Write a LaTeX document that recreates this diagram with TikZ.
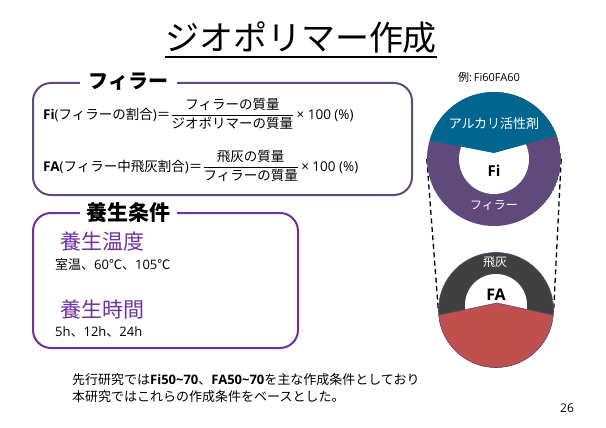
\documentclass[tikz,border=0pt]{standalone}
\usepackage{fontspec}
\setmainfont{Open Sans}
\newfontfamily\jp{Noto Sans CJK JP}
\usetikzlibrary{positioning}

\definecolor{boxgray}{HTML}{604A7B}
\definecolor{curepurple}{HTML}{7030A0}
\definecolor{alkblue}{HTML}{00668F}
\definecolor{fillpurple}{HTML}{604A7B}
\definecolor{ashgray}{HTML}{404040}
\definecolor{ashred}{HTML}{C0504D}

\begin{document}
\begin{tikzpicture}[x=1pt, y=-1pt,
    panel/.style={draw, line width=2pt, rounded corners=18pt},
    paneltitle/.style={fill=white, font=\jp\bfseries\fontsize{20}{24}\selectfont, minimum width=97pt, inner sep=0pt},
    formula/.style={anchor=west, font=\fontsize{13.5}{16}\selectfont, inner sep=0pt},
    subhead/.style={anchor=west, text=curepurple, font=\jp\fontsize{21}{24}\selectfont, inner sep=0pt},
    subtext/.style={anchor=west, font=\fontsize{13}{16}\selectfont, inner sep=0pt},
    ringlabel/.style={text=white, font=\jp\fontsize{12}{14}\selectfont},
    corelabel/.style={font=\bfseries\fontsize{15}{18}\selectfont},
    zoomline/.style={line width=1.3pt, dash pattern=on 5pt off 3.5pt}
]
\useasboundingbox (0,0) rectangle (606,428);

% Titel
\node[font=\jp\fontsize{34}{40}\selectfont, inner sep=0pt] (title) at (301,38) {ジオポリマー作成};
\draw[line width=1.5pt] ([yshift=-3pt]title.south west) -- ([yshift=-3pt]title.south east);

% Kasten Fi / FA
\draw[panel, boxgray] (33,83) rectangle (412,195);
\node[paneltitle] (fillertitle) at (128.5,82) {フィラー};
\node[formula] (fiformula) at (43,114)
  {\textbf{Fi}({\jp フィラーの割合}){\jp ＝}$\displaystyle\frac{\hbox{\jp フィラーの質量}}{\hbox{\jp ジオポリマーの質量}}$\,× 100 (\%)};
\node[formula] (faformula) at (43,166)
  {\textbf{FA}({\jp フィラー中飛灰割合}){\jp ＝}$\displaystyle\frac{\hbox{\jp 飛灰の質量}}{\hbox{\jp フィラーの質量}}$\,× 100 (\%)};

% Kasten Aushaertung
\draw[panel, curepurple] (33,213) rectangle (298,348);
\node[paneltitle, font=\jp\bfseries\fontsize{21}{24}\selectfont] (curetitle) at (128.5,212) {養生条件};
\node[subhead] (temphead) at (60,242) {養生温度};
\node[subtext] (temptext) at (55,264) {{\jp 室温、}60{\jp ℃、}105{\jp ℃}};
\node[subhead] (timehead) at (60,310) {養生時間};
\node[subtext] (timetext) at (55,332) {5h{\jp 、}12h{\jp 、}24h};

% Beispiel
\node[font=\fontsize{11}{13}\selectfont] (example) at (489,77) {{\jp 例}:\,Fi60FA60};

\node[circle, minimum size=134pt, inner sep=0pt] (ficircle) at (494,159) {};
\node[circle, minimum size=115pt, inner sep=0pt] (facircle) at (496,310) {};

% gestrichelte Linien
\draw[zoomline] (ficircle.west) -- (facircle.west);
\draw[zoomline] (ficircle.east) -- (facircle.east);

% Kreis Fi
\begin{scope}
\clip (ficircle.center) circle (67pt);
\fill[fillpurple] (ficircle.center) circle (67pt);
\fill[white] (ficircle.center) circle (35pt);
\fill[alkblue] (420,80) -- (420,138.5) -- (494,153) -- (570,132) -- (570,80) -- cycle;
\end{scope}
\node[ringlabel, font=\jp\fontsize{13}{16}\selectfont] (alklabel) at (494,124) {アルカリ活性剤};
\node[corelabel] (filabel) at (494,171) {Fi};
\node[ringlabel] (fillerlabel) at (494,205) {フィラー};

% Kreis FA
\begin{scope}
\clip (facircle.center) circle (57.5pt);
\fill[ashgray] (facircle.center) circle (57.5pt);
\fill[white] (496,305) circle (31pt);
\fill[ashred] (430,317) -- (497,303) -- (562,317) -- (562,380) -- (430,380) -- cycle;
\draw[fillpurple, line width=0.6pt] (430,317) -- (497,303) -- (562,317);
\end{scope}
\draw[fillpurple, line width=0.6pt] (facircle.center) circle (57.5pt);
\node[ringlabel] (ashlabel) at (495,262) {飛灰};
\node[corelabel, font=\bfseries\fontsize{16}{20}\selectfont] (falabel) at (496,295) {FA};

% Fazit
\node[anchor=west, align=left, inner sep=0pt, font=\fontsize{13}{17}\selectfont] (summary) at (72,388.5)
  {{\jp 先行研究では}\textbf{Fi50\textasciitilde70}{\jp 、}\textbf{FA50\textasciitilde70}{\jp を主な作成条件としており}\\
   {\jp 本研究ではこれらの作成条件をベースとした。}};
\node[font=\fontsize{12}{14}\selectfont] (pagenum) at (567,408) {26};
\end{tikzpicture}
\end{document}
